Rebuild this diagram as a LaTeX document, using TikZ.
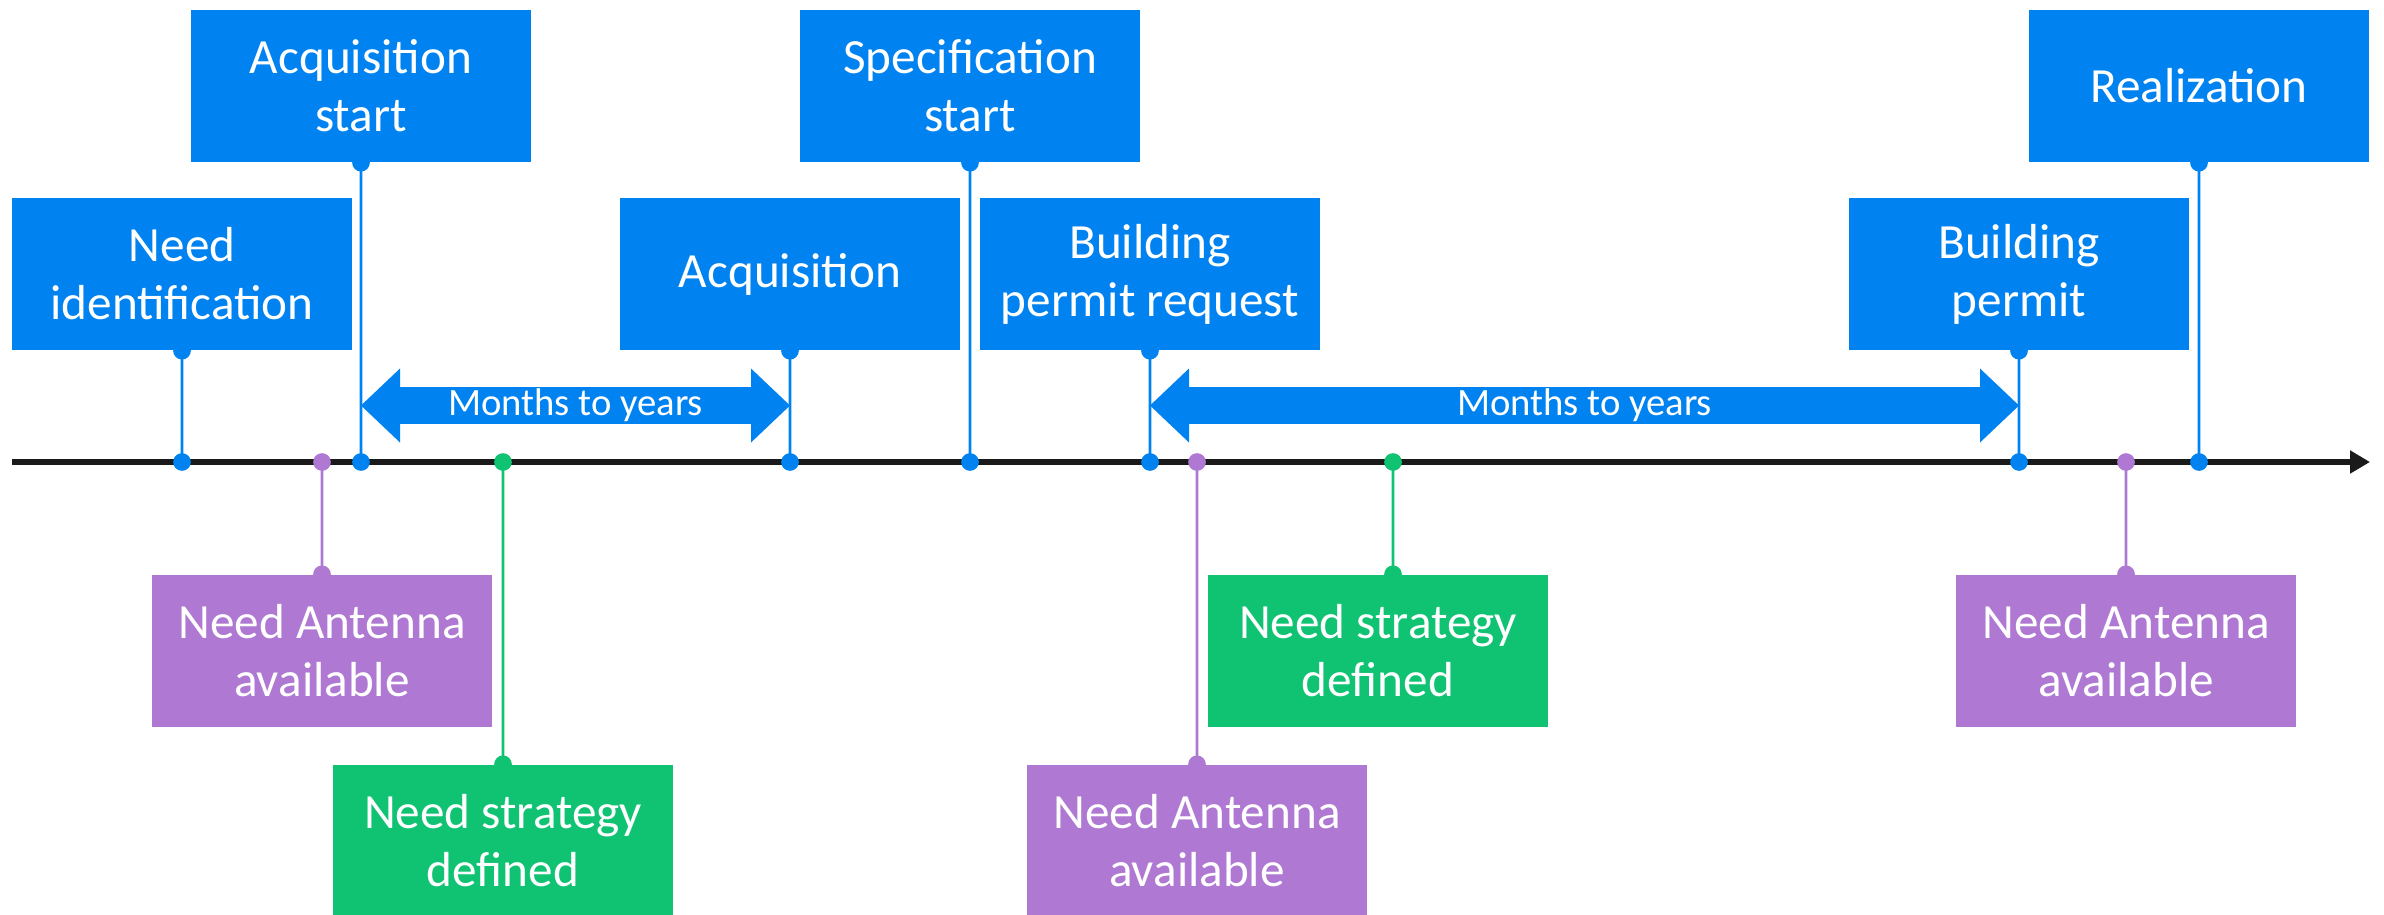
\documentclass[tikz,border=0pt]{standalone}
\usepackage{fontspec}
\setmainfont{Carlito}
\usetikzlibrary{arrows.meta, positioning, backgrounds}
\definecolor{stageblue}{RGB}{0,130,240}
\definecolor{antpurple}{RGB}{175,120,210}
\definecolor{stratgreen}{RGB}{15,195,115}
\definecolor{axisblack}{RGB}{26,26,26}
\tikzset{
    block/.style={
        rectangle, text=white, align=center, inner sep=0pt,
        minimum width=3.4cm, minimum height=1.52cm,
        font=\fontsize{14}{16.5}\selectfont
    },
    stageblock/.style={block, fill=stageblue},
    antblock/.style={block, fill=antpurple},
    stratblock/.style={block, fill=stratgreen},
    connector/.style={line width=0.75pt},
    timeaxis/.style={draw=axisblack, line width=1.8pt, -{Triangle[length=0.2cm, width=0.22cm]}},
    duration/.style={
        draw=stageblue, line width=0.37cm,
        {Triangle[length=0.39cm, width=0.74cm, line width=0pt]}-{Triangle[length=0.39cm, width=0.74cm, line width=0pt]}
    },
    durationlabel/.style={text=white, font=\fontsize{11}{13}\selectfont}
}

\begin{document}
\begin{tikzpicture}

\useasboundingbox (0,0) rectangle (23.84,-9.15);

% Time axis
\coordinate (axisL) at (0.12,-4.62);
\coordinate (axisR) at (23.70,-4.62);
\coordinate (spanrow) at (0,-4.055);

% Stages above the axis
\node[stageblock] (needid) at (1.82,-2.74) {Need\\identification};
\node[stageblock] (acqstart) at (3.61,-0.86) {Acquisition\\start};
\node[stageblock] (acq) at (7.90,-2.74) {Acquisition};
\node[stageblock] (specstart) at (9.70,-0.86) {Specification\\start};
\node[stageblock] (permitreq) at (11.50,-2.74) {Building\\permit request};
\node[stageblock] (permit) at (20.19,-2.74) {Building\\permit};
\node[stageblock] (realization) at (21.99,-0.86) {Realization};

% Needs below the axis
\node[antblock] (antenna1) at (3.22,-6.51) {Need Antenna\\available};
\node[stratblock] (strategy1) at (5.03,-8.41) {Need strategy\\defined};
\node[antblock] (antenna2) at (11.97,-8.41) {Need Antenna\\available};
\node[stratblock] (strategy2) at (13.78,-6.51) {Need strategy\\defined};
\node[antblock] (antenna3) at (21.26,-6.51) {Need Antenna\\available};

% Axis and connectors
\begin{scope}[on background layer]
\draw[timeaxis] (axisL) -- (axisR);
\foreach \n in {needid, acqstart, acq, specstart, permitreq, permit, realization}
    \filldraw[connector, stageblue] (\n.south) circle (0.075) -- (\n.south |- axisL) circle (0.075);
\foreach \n in {antenna1, antenna2, antenna3}
    \filldraw[connector, antpurple] (\n.north) circle (0.075) -- (\n.north |- axisL) circle (0.075);
\filldraw[connector, stratgreen] (strategy1.north) circle (0.075) -- (strategy1.north |- axisL) circle (0.075);
\filldraw[connector, stratgreen] ([xshift=0.15cm]strategy2.north) circle (0.075) -- ([xshift=0.15cm]strategy2.north |- axisL) circle (0.075);
\end{scope}

% Durations
\draw[duration] (acqstart.south |- spanrow) -- node[durationlabel] {Months to years} (acq.south |- spanrow);
\draw[duration] (permitreq.south |- spanrow) -- node[durationlabel] {Months to years} (permit.south |- spanrow);

\end{tikzpicture}
\end{document}
